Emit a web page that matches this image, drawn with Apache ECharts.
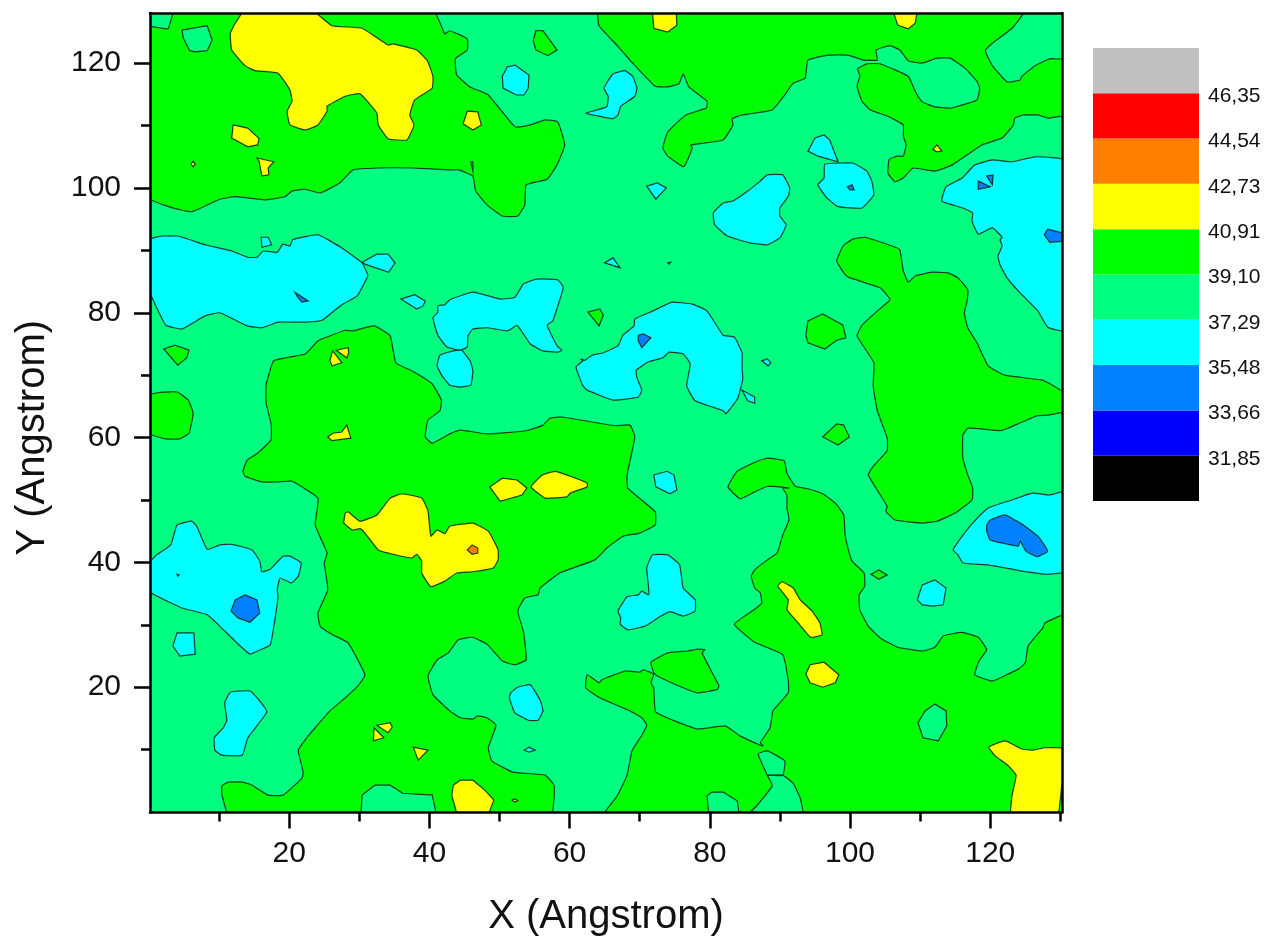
<!DOCTYPE html>
<html><head><meta charset="utf-8">
<style>html,body{margin:0;padding:0;background:#fff}#c{width:1268px;height:938px}</style>
<script src="https://cdn.jsdelivr.net/npm/echarts@6/dist/echarts.min.js"></script>
</head><body><div id="c"></div>
<script>
// Contour regions in data units (Angstrom): flat x,y lists
const greenRegions = [
[0,98.4,3.4,96.8,6.1,96.2,10.1,98.2,12.3,98.6,16.5,98.1,19.4,98.6,20.4,99.5,22.3,99.8,24.4,99.2,27.2,100.8,29.1,102.9,32.7,103.2,37.5,103.2,42.9,102.9,44.2,102.9,46.2,101.9,46.6,99.5,48.2,97.3,50.4,95.5,52.6,95.5,53.6,97.3,53.8,100.5,56.8,101.4,58.2,103.7,59.3,106.9,58.3,110.6,56.5,110.9,54.4,110.1,52.2,109.8,48.4,114.9,45.8,116.2,43.9,118.1,43.7,120.7,45.4,122.1,45.4,123.9,42.9,125.2,42.2,124.7,40.5,128.5,3.7,128.5,2.7,125.5,0,125.8],
[64.1,128.5,64.2,126,66.8,122.8,68.6,120.5,72.2,116.3,73.9,116.2,75.6,116.7,76.2,118.3,77,116.2,79.6,113.9,79.5,112.8,76.6,111.7,74,109,73.3,106.4,74,105.1,76.3,103.4,77.5,106.4,77.3,106.9,81.9,107.7,83.3,110.1,83.2,111.1,84.6,111.7,88.9,112.5,90.7,114.9,91.9,116.8,93.6,117.6,94,120.5,96.9,121.3,99.7,121.3,101.9,120.5,103.9,120.5,103.7,122.1,105.7,122.8,107.1,122.1,108.3,120.4,110.3,120,112.4,120.8,114.3,120.8,116.4,119.2,118.1,117.1,118.5,116,118.1,114.1,115.4,113.1,114.3,112.8,112.1,113,110.3,113.8,109.3,115.5,108.3,117.9,104.3,119.9,102.4,119.9,101.1,119.1,101.4,117.9,101,116.3,101.7,113.9,102.9,112.5,105.4,111.5,107.6,110.1,107.6,108.3,108,106.9,107.6,105.1,106.7,105.1,105.6,104.6,105.4,102.4,106.4,101,107.6,101.6,109,103.2,112.1,102.7,114.6,103.7,118.8,106.9,121.7,108,123.3,110.1,123.5,111.2,124.7,111.7,126.8,111.7,128.2,111.2,131,111.9,131,120.4,128.5,120.7,126.4,119.6,124.5,117.9,124.3,117.3,122.4,117,120.3,119.6,119.3,122,120.3,123.2,123.1,125.6,124.9,128.5],
[54.8,123.6,55.2,125.2,56.2,125.2,58.2,122.1,56.9,121.2,55.2,122.1],
[98.1,88.3,99,90.7,100.4,91.8,102.1,92.1,106,90.7,107.1,90.1,107.6,86.7,108.3,84.9,109.3,85.9,111.7,86.5,114,86.4,115.4,85.6,116.8,83.7,116.7,81.9,116.3,80,116.8,77.6,118.1,75.2,119.7,71.5,122.1,70,127.4,69.2,129,68.3,131,66.8,131,64.3,128.2,63.6,126.7,63.5,122.5,61.5,121.4,61.1,116.8,61.5,116.1,60.4,116.1,56.7,116.8,54,117.5,51.9,117.4,50,115,47.9,112.4,46.6,110.3,46.3,106.4,46.8,105.1,48.2,105.3,49,102.6,54,103.3,55.4,105.3,57.9,105.3,59.9,103.9,64.3,103.3,68.3,103.4,72,101,76.3,101.7,78,104,80.4,105.7,82.1,104.3,84,100,85.6,99.3,86.1],
[93.7,76.4,94,78.7,96.1,79.8,99,78,99.4,76,98.1,75.6,96.4,74.2,94,75.2],
[96.1,60.1,98.1,62.2,99.1,62,99.9,60.1,98.3,58.8],
[62.6,80.1,64.3,80.6,64.8,79.6,64.2,77.9],
[2.1,74.2,3.7,74.8,5.7,74,5.4,72.8,4.1,71.6],
[0,66.8,2,67.3,4,67.3,5.6,66,6.3,63.9,5.7,60.7,4.4,59.8,2.3,59.8,0,60.7],
[17.8,72.3,22.3,73.4,24.1,75.5,28,77.2,29.1,77.1,32.1,77.9,34.4,76.3,35.2,72,37.5,70.7,40.4,68.6,41.7,66,41.5,64.3,39.8,62.8,39.4,60.1,40.4,59.1,42.9,60.6,44.4,61.2,48.2,60.6,53.9,61.1,56.2,62,57.2,63.1,58.9,63.3,66.5,61.9,68.6,62,69.3,60.1,68.2,54,68.3,51.9,72.2,48.1,72.2,46,70,44.7,67.6,44.2,65.3,42.3,63.6,40.4,58.6,38.3,55.8,35.9,55.5,34.8,53.6,34.3,52.6,32.2,53.4,29,53.8,24.4,52.2,23.6,50.4,24.2,48.2,26.9,46.1,28,44.1,27.6,42.7,25.5,41.1,24.4,39.8,21.8,40.5,18.8,42.9,16.2,44.4,15.1,46.2,14.9,46.9,15.4,48.2,15.1,49.5,13.9,48.4,10.3,48.9,8.2,51.9,6.4,56.5,5.9,57.8,4.2,57.2,-1,11.6,-1,10.4,2.7,10.4,4.2,11.3,4.8,13.4,4.8,14.7,4.3,17,2.7,19.1,2.7,21.8,5.4,22,6.3,21.3,9.9,22.5,11.9,24,13.9,25.8,16.2,28,18.3,29.8,20.2,30.8,22,28.4,27.1,26.2,28.4,24.4,29.8,24.1,31.9,25.5,35.6,25,39.9,25.4,41.5,23.7,46,24.1,50.3,20.4,53,18.4,52.9,16.1,52.9,13.7,53.8,13.4,54.6,14,56.4,15.5,57.5,17.4,59.6,17.4,62.3,16.7,65.5,16.7,68.4],
[64.6,-1,66.8,2.6,68.2,5.9,68.9,9.8,70.3,12.3,71,13.9,70.3,15.1,68.6,16.2,64.3,18.3,62.3,19.9,62.5,22,64.2,20.7,64.6,21.2,67.9,22.6,70,22.4,70.5,22.8,72,22.1,71.6,20.7,72,19.9,72.3,16,78.2,13.3,82.2,13.8,84.3,12.2,87.2,10.7,87.6,10.6,87.2,11.1,88.6,13.5,89,16.2,91.2,19.1,91.2,21,90.4,25.2,86.4,27.2,83.5,30.1,86.4,32.5,87.4,33.5,87.2,35.1,86.4,35.9,85.9,37.8,86.4,38.8,88.2,40.4,89.6,41.5,90.4,44.4,91.3,46.8,91,48.7,91,50.8,90.4,51.9,91.3,51.9,88.3,52.2,86.4,51.3,84.3,50.2,82.6,52.1,83.9,54.6,87.2,56.4,88.3,56.7,90.6,56.3,91,54.3,92.2,52.2,94,51.8,96.1,51,97.9,49.5,99.1,47.6,99.3,44.4,99.7,42.3,100.3,40.2,102,38.3,102.1,36.2,101.3,34.8,101.4,32.4,102.6,29.8,104.3,27.9,106.8,26.4,110.3,25.8,112.1,26.4,113.3,28.2,116,28.8,118.3,28,119.5,26,118.4,24.2,117.8,22,120.3,21,124,22.9,125,23.9,125.4,26.6,127.5,29.5,127.8,30.3,131,31.7,131,-1],
[71.6,24,74,25.5,76.9,25.8,78.3,26.1,79.3,26,78.9,25.5,79.6,23.9,81.3,20.2,81,19.6,78.2,19.1,76.2,19.9,72.5,21.8,72,22.3],
[103,38.1,104.1,38.8,105.3,38,104.1,37.3]
];
const paleRegions = [
[4.7,125.3,8.3,126,9,123.7,8.3,122,6.6,121.8,5.8,122,4.9,124],
[45.9,104.2,46.2,104.2,46.2,102.7],
[30.2,-1,30.4,2.7,32.2,4.3,34.4,4.3,36.2,3,40.4,2.7,41.1,-1],
[79.9,-1,79.6,2.6,80.3,3.2,81.9,3.2,83.9,1.8,84.3,-1],
[86.9,9.3,88.2,9.8,90.7,8.2,90.4,5.9,88.3,5.9,90.4,5.9,91.9,4.6,92.9,2.2,93.3,-1,85,-1,86.7,1,88.9,4.2,88.2,5.9],
[109.7,14.3,110.7,16.2,112.1,17.3,113.7,16.2,113.8,13.8,112.6,11.4,110.4,11.9]
];
const yellowRegions = [
[13.7,128.5,12.3,126.4,11.6,124.8,11.8,122.1,13.7,119.6,15.1,118.8,18.4,118.4,20.1,115.7,20.4,113.9,19.7,112.3,20.1,110.1,22.3,109.3,24.1,110.1,25.4,112.3,25.4,113.1,28,114.7,30.1,115.1,32.5,112,32.7,110.1,34.1,107.9,36.8,107.7,37.8,110.1,37.2,111.7,37.9,114.1,40.4,116,40.5,117.9,39.7,120.4,38.2,122.1,34.8,123.1,34.1,122.9,30.4,125.6,26.1,126,23.2,128.5],
[12,110.1,14.1,109.6,15.7,107.9,15.5,106.9,14.1,106.6,11.8,108],
[15.4,104.8,17.8,104.2,17,103.2,17.1,102.1,16.1,101.9,15.7,104.3],
[6,103.8,6.3,104.3,6.6,103.8,6.3,103.4],
[44.8,110.3,45.4,112.3,46.9,112.2,47.4,110.1,46.2,109.3],
[71.8,128.5,72,125.6,74,125,75.3,126.1,75.2,128.5],
[106.1,128.5,106.8,126.1,108.3,125.5,109.3,126.4,109.6,128.5],
[112.4,106.9,113.1,105.9,112.4,105.8,111.8,106.2],
[26.2,73.9,27.5,72,26.1,71.5,25.8,72.3],
[26.7,74,28.4,74.4,28.5,73.6,28.2,72.8],
[25.5,60.1,26.2,60.7,27.5,60.9,28.2,62,28.8,59.9,26.1,59.5],
[28,47.9,28.4,48.1,30.1,46.6,32.5,47.6,34.4,50.3,36.1,51,38.9,50.3,39.8,48.2,40.2,44.2,41.1,45.2,42.2,44.6,42.9,45.8,46.2,46.3,48.4,45,49.8,42,49.8,40.4,49.1,39.1,46.2,38.5,43.9,38.3,42.2,37,40.2,36.1,38.9,38.3,38.9,40.2,38.2,41.3,37.5,40.7,34.8,41.3,32.7,42,30.8,44.7,30.1,45.4,29,45.2,27.8,46.3],
[48.6,52.1,50.4,53.5,52.5,53.2,53.9,51.9,53.2,50.8,50.1,49.8],
[54.5,52.1,56.1,54,57.9,54.6,60.1,53.8,62.5,52.7,62.5,52.1,60.1,51.1,59.6,50.5,56.5,50.3],
[89.7,36.2,90.3,36.9,91.9,35.9,92.9,34,94.6,32.2,95.7,30.3,96,28.4,94.4,28,92.6,30.3,91,32.4,91.2,34],
[93.7,22.1,94.3,23.6,96.3,24,98.4,22,97.9,20.7,96.1,20,94.3,20.7],
[32.1,13.5,33.5,11.9,32,11.4],
[32.5,13.9,34.4,14.3,34.7,13.6,34.1,12.7],
[37.7,10.4,39.8,9.9,38.4,8.3],
[43.4,4.3,44.4,5.1,46.2,5.1,47.9,3.5,49.2,1.9,48.2,-1,44.1,-1,43.2,2.6],
[51.8,1.9,52.2,2.1,52.6,1.8,52.2,1.6],
[119.8,10.4,122.1,11.4,124.5,10.1,126,9.9,127.8,10.3,131,10.1,130.2,4.2,129.5,-1,123,-1,123.1,2.6,123.7,5.9,122.5,7.5,120.7,9]
];
const orangeRegions = [
[45.4,42,46.1,42.8,46.9,42.3,46.9,41.5,46.1,41.3]
];
const cyanRegions = [
[50.4,117.9,51.1,119.4,52.2,119.7,54.2,118.1,54.1,116,53.5,114.9,52.4,114.9,50.5,116],
[62.3,112,65.3,113,65.5,114.7,64.9,116,66.2,118.3,67.9,118.8,69,117.9,69.6,116,69.3,114.7,67.3,113.1,66.9,111.7,66.2,111.1,63.3,111.7],
[80.5,96,81.9,97.6,83.3,97.9,85.4,99.5,87.2,101.1,88.2,102.1,90.4,102.1,91.4,100,91.2,98.7,90,96.8,90,95.5,90.9,94.1,90,92,88.2,90.9,85.7,91.2,82.5,92.3,80.7,94.1],
[94,105.9,95,108,96.3,108.5,97.1,107.7,98.3,104.2,95.4,105.1],
[96.4,103.8,100.4,104,102.4,102.7,103.1,101.1,103.4,98.9,101.7,96.8,98.3,97,96.7,98.4,95.4,100.5,96.3,101.6],
[113.1,97.9,113.7,100.2,116,101.6,117.8,103.7,120.3,104.5,123.1,104.2,126.4,105,131,104.3,131,77.1,128.2,77.7,126.8,80.3,124.5,82.9,122.4,85.6,121.4,87.7,121.1,89.1,121.7,90.7,121.4,91.7,121.7,92.1,120.3,93.6,118.3,92.6,117.4,94.7,117.5,96,116.1,96.8],
[0,91.7,1.9,92.3,4.1,92.3,8,90.9,11.8,89.9,14.1,88.9,15.4,88.9,16.3,89.9,18.3,89.7,19.1,91,20.1,90.7,20.5,91.7,24.1,92.5,27.5,90.4,30.4,88,31.2,86.1,31.1,85.6,29.7,82.7,27.5,81.3,24.7,78.8,22.3,78.5,18.4,78.5,16.1,77.6,14,77.9,10.1,80,8,79.5,4.7,77.4,2.4,78,1.1,80.8,0,83.7],
[30.4,88.1,32.5,89.4,34.1,89.4,35.1,88,34.2,86.5,30.8,87.8],
[16,92.1,17,92.1,17.5,90.9,16.1,90.5],
[35.9,82.2,37.9,82.9,39.4,81.9,39.1,81.1,38.2,80.6],
[42.9,82.1,46.2,83.3,50.1,82.2,52.2,82.5,53.4,84.6,55.3,85.4,58.3,85.3,59.1,84.1,58.6,82.1,57.6,78.7,56.8,78,58.2,74.7,58.9,74,58.3,73.7,56.2,73.9,54.4,75,52.5,78,51.2,77.1,48.2,77.6,46.2,77.4,45.5,76.3,45.4,74.5,44.4,74,42.5,74.5,41.2,76.4,40.5,79.2,41.2,80.1,41.2,81.1,42.2,81.3],
[43.4,73.9,41.5,73.2,41.1,71.5,41.8,69.9,42.9,68.4,44.4,68.1,45.9,68.4,46.2,70.7,45.8,72.3,44.6,74],
[60.9,71.3,61.9,72.3,61.6,72.6,62.2,72.4,63.2,73.2,64.8,73.6,66.9,74.7,67.6,76.4,69.2,77.9,69.3,79,71.9,80.3,74.6,81.7,77.5,81.4,79.6,80.3,81.9,76.4,83.5,76.1,84.6,73.6,84.6,71.2,84.7,69.4,84,66.3,82.3,63.8,81.9,64.3,77.9,65.9,76.7,68.3,77.2,71.8,76.2,73.4,74.2,73.7,73.3,72.8,71.2,72.1,69.5,70.8,69.6,69.6,70.3,67.6,69.8,66.5,66.2,66,62.5,67.6,61.9,68.3],
[84.6,67.6,86.4,66.5,86.4,65.5,85.4,65.9],
[87.4,72.3,88.2,72.6,88.7,72,88.3,71.5],
[72,54,73.9,54.6,74.9,54,75.3,51.6,74.3,51,72.3,52.1],
[114.7,42,116,44.2,117.5,46.3,119.7,48.7,123.1,50,126,51.1,128.5,50.8,131,51.4,131,38.6,128.2,38.1,124.5,38.6,119.7,39.6,116.1,39.9,115.4,41.2],
[66.9,32.2,68.2,34.5,69.8,34.8,70.3,35.4,71.3,34.8,71.2,36.7,71,39.1,71.8,41.2,74,41.2,75.7,39.6,76.2,35.9,77.9,34,77.9,32.2,76.2,31.4,74.3,32.1,72.6,31.1,70.8,29.8,68.3,29.2,67.2,30.1,67.3,31.1],
[51.6,19.1,52.6,20,54.4,20.4,55.8,17.9,56.2,16.2,55.5,14.7,54.1,14.7,52.2,15.9,51.4,18.3],
[53.5,9.9,54.2,10.4,55.1,9.9,54.2,9.6],
[109.6,34,110.3,36.4,112.1,37.2,113.7,35.9,113.3,33.2,111.8,33,110.3,33.2],
[0,35.4,0,39.9,1.1,41.2,3.1,42.8,4,46,6.1,46.6,6.8,45.8,8.3,42.1,10.1,42.8,11.8,42.9,14.7,42,15.8,40.2,16.1,38.5,17.3,38.9,19.1,41,20.1,41,21.7,39.9,21.3,37.8,20.3,36.7,18.7,37.5,18.3,35.7,18.4,34.3,17.3,26.8,15.5,25.8,14.4,25.3,13,26.6,10.8,29,8.3,31.6,4.7,32.7],
[3.4,26.6,4,28.7,6.4,28.7,6.6,25.3,4.4,25],
[10.8,17.5,11.6,19.2,14.4,19.4,15.8,17.8,16.8,16,14.1,11.9,13.3,9.1,10.4,9.1,9.4,9.9,9.3,11.9,10.6,13.5,11.1,14.7],
[71,100.3,72.5,100.8,73.8,100,72.3,98.2],
[65,88,66.2,88.8,67.2,87.2],
[74,88,74.4,88.1,74.2,87.8],
[4,38.1,4.3,38,4.1,37.8]
];
const blueRegions = [
[99.6,100.2,100.3,100.5,100.6,99.7,100,99.7],
[118.3,101.1,120,100.2,118.3,99.8],
[119.5,101.9,120.4,102.1,120.3,100.5],
[128.2,93.4,131,92.6,131,91.5,128.5,91.3,127.7,92.5],
[20.8,83.3,22.7,81.9,21.8,81.7,21.1,82.7],
[69.8,76.4,70.5,76.6,71.6,76,70.3,74.4,69.8,75.5],
[119.5,46,120,46.8,122.1,47.6,124.3,46.3,126.8,44.2,128.2,41.8,126.7,40.9,125.1,41.8,124.3,43.4,124,42.6,120,43.6,119.5,45],
[11.7,32.2,12.3,34,13.7,34.8,15.4,34,15.8,31.9,14.4,30.4,12.7,31.1]
];
const xMajorTicks = [20,40,60,80,100,120];
const xMinorTicks = [10,30,50,70,90,110,130];
const yMajorTicks = [20,40,60,80,100,120];
const yMinorTicks = [10,30,50,70,90,110];
const levelValues = [31.85,33.66,35.48,37.29,39.10,40.91,42.73,44.54,46.35];
const levelEdges = [30.04,31.85,33.66,35.48,37.29,39.10,40.91,42.73,44.54,46.35,48.16];
const levelColors = ['#000000','#0000FF','#0080FF','#00FFFF','#00FF80','#00FF00','#FFFF00','#FF8000','#FF0000','#C0C0C0'];

const FONT = '"Liberation Sans", Arial, sans-serif';
const OUTLINE = 'rgba(15,40,30,0.9)';

function regionSeries(name, list, color, z) {
  return {
    type:'custom', name, xAxisIndex:0, yAxisIndex:0, clip:true, silent:true, z,
    animation:false,
    data:list.map((_,i)=>[i]),
    renderItem:(params, api)=>{
      const flat = list[params.dataIndex], pts=[];
      for (let i=0;i<flat.length;i+=2) pts.push(api.coord([flat[i],flat[i+1]]));
      return {type:'polygon', shape:{points:pts, smooth:flat.length>16?0.12:0}, style:{fill:color, stroke:OUTLINE, lineWidth:1.2}};
    }
  };
}
const line = {show:true,onZero:false,lineStyle:{color:'#000',width:2.5}};
const hiddenLabel = {show:false};
const chart = echarts.init(document.getElementById('c'),null,{renderer:'canvas'});
chart.setOption({
  animation:false,
  backgroundColor:'#fff',
  grid:[
    {left:150,top:13,width:912,height:799.5,show:true,backgroundColor:'#00FF80',borderWidth:0,containLabel:false,outerBoundsMode:'none'},
    {left:1093,top:48,width:106,height:453,show:false,outerBoundsMode:'none'}
  ],
  xAxis:[
    {gridIndex:0,type:'value',position:'bottom',min:0.14,max:130.24,z:10,axisLine:line,splitLine:{show:false},
     axisTick:{show:true,length:16,customValues:xMajorTicks,lineStyle:{color:'#000',width:2.5}},
     axisLabel:{show:true,customValues:xMajorTicks,margin:26,fontSize:30,color:'#111',fontFamily:FONT},
     name:'X (Angstrom)',nameLocation:'middle',nameGap:84,nameTextStyle:{fontSize:40,color:'#111',fontFamily:FONT}},
    {gridIndex:0,type:'value',position:'bottom',min:0.14,max:130.24,z:10,axisLine:{show:false,onZero:false},splitLine:{show:false},
     axisTick:{show:true,length:9,customValues:xMinorTicks,lineStyle:{color:'#000',width:2.5}},axisLabel:hiddenLabel},
    {gridIndex:0,type:'value',position:'top',min:0.14,max:130.24,z:10,axisLine:line,splitLine:{show:false},axisTick:{show:false},axisLabel:hiddenLabel},
    {gridIndex:1,type:'value',min:0,max:1,show:false}
  ],
  yAxis:[
    {gridIndex:0,type:'value',position:'left',min:-0.08,max:128.04,z:10,axisLine:line,splitLine:{show:false},
     axisTick:{show:true,length:16,customValues:yMajorTicks,lineStyle:{color:'#000',width:2.5}},
     axisLabel:{show:true,customValues:yMajorTicks,margin:29,fontSize:30,color:'#111',fontFamily:FONT},
     name:'Y (Angstrom)',nameLocation:'middle',nameGap:97,nameRotate:90,nameTextStyle:{fontSize:40,color:'#111',fontFamily:FONT,padding:[0,50,0,0]}},
    {gridIndex:0,type:'value',position:'left',min:-0.08,max:128.04,z:10,axisLine:{show:false,onZero:false},splitLine:{show:false},
     axisTick:{show:true,length:9,customValues:yMinorTicks,lineStyle:{color:'#000',width:2.5}},axisLabel:hiddenLabel},
    {gridIndex:0,type:'value',position:'right',min:-0.08,max:128.04,z:10,axisLine:line,splitLine:{show:false},axisTick:{show:false},axisLabel:hiddenLabel},
    {gridIndex:1,type:'value',position:'right',min:30.04,max:48.16,axisLine:{show:false,onZero:false},axisTick:{show:false},splitLine:{show:false},
     axisLabel:{show:true,customValues:levelValues,margin:9,fontSize:21,color:'#111',fontFamily:FONT,
       formatter:v=>v.toFixed(2).replace('.',','),verticalAlign:'top',lineHeight:24,padding:[-9,0,0,0]}}
  ],
  series:[
    regionSeries('39.10-40.91',greenRegions,'#00FF00',2),
    regionSeries('37.29-39.10',paleRegions,'#00FF80',3),
    regionSeries('40.91-42.73',yellowRegions,'#FFFF00',4),
    regionSeries('42.73-44.54',orangeRegions,'#FF8000',5),
    regionSeries('35.48-37.29',cyanRegions,'#00FFFF',6),
    regionSeries('33.66-35.48',blueRegions,'#0080FF',7),
    {type:'custom',name:'legend',xAxisIndex:3,yAxisIndex:3,silent:true,animation:false,z:2,
     data:levelColors.map((_,i)=>[i]),
     renderItem:(params,api)=>{
       const i=params.dataIndex, a=api.coord([0,levelEdges[i]]), b=api.coord([1,levelEdges[i+1]]);
       return {type:'rect',shape:{x:a[0],y:b[1],width:b[0]-a[0],height:a[1]-b[1]},style:{fill:levelColors[i]}};
     }}
  ]
});
</script></body></html>
